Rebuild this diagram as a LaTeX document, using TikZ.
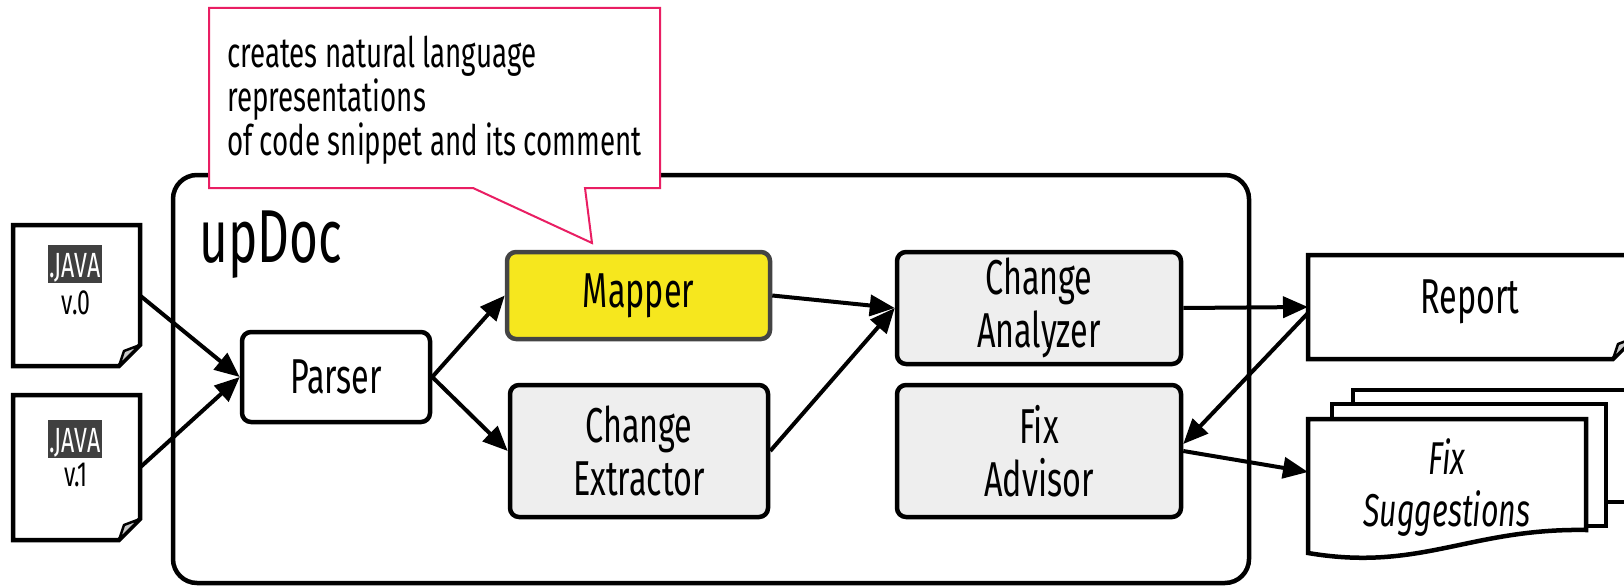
\documentclass[tikz,border=0pt]{standalone}
\usepackage{fontspec}
\setmainfont{Fira Sans}[FakeStretch=0.66]
\usetikzlibrary{arrows.meta}
\definecolor{callpink}{RGB}{233,30,99}
\definecolor{boxgrey}{RGB}{238,238,238}
\definecolor{mapyellow}{RGB}{246,231,30}
\definecolor{mapborder}{RGB}{68,68,68}
\definecolor{javabg}{RGB}{64,64,64}
\definecolor{foldgrey}{RGB}{200,200,200}
\begin{document}
\begin{tikzpicture}[x=1pt,y=-1pt,
  arr/.style={-{Triangle[length=25pt,width=21pt]}, line width=4pt},
  procbox/.style={draw, line width=4.5pt, rounded corners=9pt, fill=boxgrey, align=center, inner sep=0pt, font=\fontsize{49}{53}\selectfont},
  docshape/.style={draw, line width=4.5pt},
  foldshape/.style={draw, line width=2.5pt, fill=foldgrey, line join=round},
  sheet/.style={draw, line width=4.5pt, fill=white},
  holder/.style={inner sep=0pt, outer sep=0pt},
  javalabel/.style={fill=javabg, text=white, inner xsep=1pt, inner ysep=1pt, text height=31pt, text depth=5pt, font=\fontsize{35}{36}\selectfont},
  vlabel/.style={inner sep=0pt, font=\fontsize{35}{36}\selectfont},
]
\clip (0,0) rectangle (1624,586);

% container
\node[draw, line width=4.5pt, rounded corners=24pt, minimum width=1076pt, minimum height=408pt, holder] (frame) at (711,379) {};
\node[anchor=base west, inner sep=0pt, font=\fontsize{75}{80}\selectfont] (updoc) at (199,262) {upDoc};

% callout
\draw[callpink, line width=2pt, fill=white] (209,8) -- (660,8) -- (660,188) -- (585,188) -- (592,243) -- (473,188) -- (209,188) -- cycle;
\node[anchor=north west, inner sep=0pt, align=left, font=\fontsize{42}{44}\selectfont] (calltext) at (227,36)
  {creates natural language\\representations\\of code snippet and its comment};

% input documents
\node[minimum width=127pt, minimum height=141pt, holder] (doc0) at (76.5,295.5) {};
\draw[docshape] (doc0.north west) -- (doc0.north east) -- ([yshift=21pt]doc0.south east) -- ([xshift=-21pt]doc0.south east) -- (doc0.south west) -- cycle;
\draw[foldshape] ([xshift=-21pt]doc0.south east) -- ([xshift=-16pt,yshift=15pt]doc0.south east) -- ([yshift=21pt]doc0.south east) -- cycle;
\node[javalabel] (java0) at (75,264) {.JAVA};
\node[vlabel] (v0) at (76,303) {v.0};

\node[minimum width=127pt, minimum height=145pt, holder] (doc1) at (76.5,467.5) {};
\draw[docshape] (doc1.north west) -- (doc1.north east) -- ([yshift=21pt]doc1.south east) -- ([xshift=-21pt]doc1.south east) -- (doc1.south west) -- cycle;
\draw[foldshape] ([xshift=-21pt]doc1.south east) -- ([xshift=-16pt,yshift=15pt]doc1.south east) -- ([yshift=21pt]doc1.south east) -- cycle;
\node[javalabel] (java1) at (75,439) {.JAVA};
\node[vlabel] (v1) at (76,475) {v.1};

% process boxes
\node[procbox, fill=white, minimum width=188pt, minimum height=90pt] (parser) at (336,377) {Parser};
\node[procbox, fill=mapyellow, draw=mapborder, minimum width=263pt, minimum height=87pt] (mapper) at (638.5,295.5) {Mapper};
\node[procbox, minimum width=258pt, minimum height=132pt] (extractor) at (639,451) {Change\\Extractor};
\node[procbox, minimum width=284pt, minimum height=112pt] (analyzer) at (1039,308) {Change\\Analyzer};
\node[procbox, minimum width=284pt, minimum height=132pt] (advisor) at (1039,451) {Fix\\Advisor};

% report
\node[minimum width=326pt, minimum height=104pt, holder] (report) at (1471,307) {};
\draw[docshape] (report.north west) -- (report.north east) -- ([yshift=21pt]report.south east) -- ([xshift=-21pt]report.south east) -- (report.south west) -- cycle;
\draw[foldshape] ([xshift=-21pt]report.south east) -- ([xshift=-16pt,yshift=15pt]report.south east) -- ([yshift=21pt]report.south east) -- cycle;
\node[inner sep=0pt, font=\fontsize{49}{53}\selectfont] (reporttext) at (1470,302) {Report};

% fix suggestions stack
\draw[sheet] (1353,390) rectangle (1640,502);
\draw[sheet] (1332,404) rectangle (1606,526);
\draw[sheet] (1308,419) -- (1586,419) -- (1586,530) .. controls (1470,528) and (1420,572) .. (1308,553) -- cycle;
\node[minimum width=278pt, minimum height=134pt, holder, align=center, font=\fontsize{46}{52}\selectfont\itshape] (fixs) at (1447,488) {Fix\\Suggestions};

% connectors
\draw[arr] (doc0.east) -- (parser.west);
\draw[arr] (doc1.east) -- (parser.west);
\draw[arr] (parser.east) -- (mapper.west);
\draw[arr] (parser.east) -- (extractor.west);
\draw[arr] (mapper.east) -- (analyzer.west);
\draw[arr] (extractor.east) -- (analyzer.west);
\draw[arr] (analyzer.east) -- (report.west);
\draw[arr] ([yshift=-6pt]report.west) -- ([yshift=7pt]advisor.east);
\draw[arr] (advisor.east) -- ([yshift=16pt]fixs.west);
\end{tikzpicture}
\end{document}
